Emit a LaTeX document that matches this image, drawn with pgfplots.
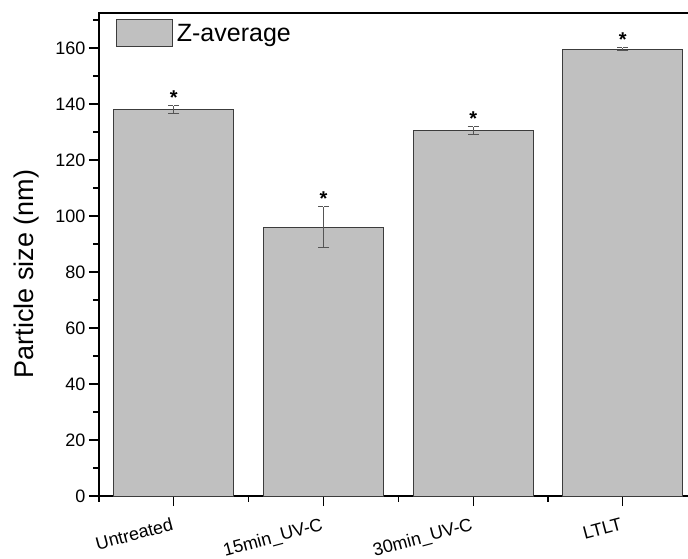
\documentclass[border=0pt]{standalone}
\usepackage{pgfplots}
\pgfplotsset{compat=1.18}
\usepackage{fontspec}
\setmainfont{Liberation Sans}
\definecolor{barfill}{HTML}{C0C0C0}
\definecolor{bardark}{HTML}{3C3C3C}
\definecolor{errgray}{HTML}{555555}
\begin{document}
\begin{tikzpicture}
\clip (-99bp,-63bp) rectangle (589bp,496bp);
\begin{axis}[
  at={(0,0)}, anchor=south west,
  scale only axis, width=598.7bp, height=483bp,
  xmin=0.5, xmax=4.5, ymin=0, ymax=172.5,
  xtick={1,2,3,4},
  xticklabels={Untreated,15min\_UV-C,30min\_UV-C,LTLT},
  minor xtick={0.5,1.5,2.5,3.5},
  ytick={0,20,...,160},
  minor ytick={10,30,...,170},
  xtick pos=left, ytick pos=left,
  tick align=outside,
  major tick length=10bp, minor tick length=5.5bp,
  every tick/.style={line width=1.2bp, black},
  axis line style={line width=1.5bp, black},
  /pgf/number format/assume math mode=true,
  yticklabel style={font=\fontsize{18bp}{21bp}\selectfont},
  xticklabel style={font=\fontsize{18bp}{21bp}\selectfont, xshift=-3bp, yshift=-11bp, rotate=15, anchor=north east, inner sep=0pt},
  ylabel={Particle size (nm)},
  ylabel style={font=\fontsize{27bp}{31bp}\selectfont, at={(axis description cs:-0.1102,0.4596)}, anchor=base, inner sep=0pt},
  legend style={at={(axis description cs:0,1)}, anchor=north west, xshift=16.7bp, yshift=-6bp, draw=none, fill=none, inner sep=0pt, font=\fontsize{25bp}{30bp}\selectfont, nodes={inner sep=4bp}},
  legend cell align=left,
]
\addplot[ybar, bar width=0.8, bar shift=0pt, fill=barfill, draw=bardark, line width=1bp,
  legend image code/.code={\draw[fill=barfill, draw=bardark, line width=1bp] (0bp,-13.5bp) rectangle (56bp,13.5bp);},
  error bars/.cd, y dir=both, y explicit,
  error bar style={line width=1bp, color=errgray},
  error mark options={rotate=90, mark size=5.5bp, line width=1bp, color=errgray}]
coordinates {(1,138.1) +- (0,1.5) (2,96.0) +- (0,7.3) (3,130.5) +- (0,1.5) (4,159.6) +- (0,0.5)};
\addlegendentry{Z-average}
\addplot[forget plot, only marks, mark=*, mark size=0.01pt, mark options={draw=white, fill=white, line width=0pt},
  nodes near coords={\bfseries *},
  nodes near coords style={anchor=south, inner sep=0pt, yshift=1bp, font=\fontsize{20bp}{20bp}\selectfont, text=black, opacity=1}]
coordinates {(1,139.6) (2,103.3) (3,132.0) (4,160.1)};
\end{axis}
\end{tikzpicture}
\end{document}
